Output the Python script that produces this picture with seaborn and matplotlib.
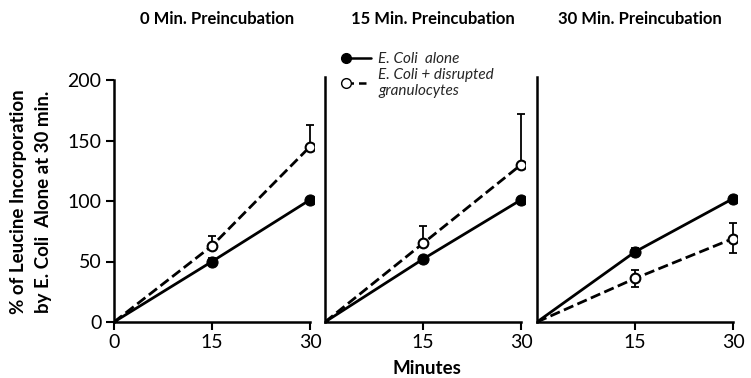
import matplotlib
matplotlib.use("Agg")
import matplotlib.pyplot as plt
import seaborn as sns
import pandas as pd
from matplotlib.lines import Line2D

sns.set_theme(style="ticks")
plt.rcParams['font.family'] = ['Lato', 'DejaVu Sans']

# ---- data ----
minutes = [0, 15, 30]
preincubation = ["0 Min. Preincubation", "15 Min. Preincubation", "30 Min. Preincubation"]
alone_p0 = [0, 50, 101]
alone_p15 = [0, 52, 101]
alone_p30 = [0, 58, 102]
disrupted_p0 = [0, 63, 145]
disrupted_p15 = [0, 65, 130]
disrupted_p30 = [0, 36, 69]
disrupted_err_up_p0 = [0, 8, 18]
disrupted_err_up_p15 = [0, 14, 42]
disrupted_err_up_p30 = [0, 7, 13]
disrupted_err_lo_p0 = [0, 0, 0]
disrupted_err_lo_p15 = [0, 0, 0]
disrupted_err_lo_p30 = [0, 7, 12]
alone_err_p0 = [0, 3, 0]
alone_err_p15 = [0, 2, 0]
alone_err_p30 = [0, 3, 0]
series_labels = ["E. Coli  alone", "E. Coli + disrupted\ngranulocytes"]
y_ticks = [0, 50, 100, 150, 200]

alone = [alone_p0, alone_p15, alone_p30]
disrupted = [disrupted_p0, disrupted_p15, disrupted_p30]
d_up = [disrupted_err_up_p0, disrupted_err_up_p15, disrupted_err_up_p30]
d_lo = [disrupted_err_lo_p0, disrupted_err_lo_p15, disrupted_err_lo_p30]
a_err = [alone_err_p0, alone_err_p15, alone_err_p30]

W, H = 751, 378
fig = plt.figure(figsize=(W / 100, H / 100), dpi=100)

lefts = [114, 325, 537]
width_px = 200
bottom_px = 322
top_px = 77
ymax = 200 * (bottom_px - top_px) / (322 - 80)
title_x = [217, 433, 640]

axes = []
for i in range(3):
    ax = fig.add_axes([lefts[i] / W, 1 - bottom_px / H, width_px / W, (bottom_px - top_px) / H])
    axes.append(ax)
    df = pd.DataFrame({"min": minutes * 2,
                       "val": alone[i] + disrupted[i],
                       "series": [series_labels[0]] * 3 + [series_labels[1]] * 3})
    ax.errorbar(minutes, disrupted[i], yerr=[d_lo[i], d_up[i]], fmt="none",
                ecolor="black", elinewidth=1.3, capsize=3, capthick=1.3, zorder=2)
    ax.errorbar(minutes, alone[i], yerr=a_err[i], fmt="none",
                ecolor="black", elinewidth=1.3, capsize=3, capthick=1.3, zorder=2)
    sns.lineplot(data=df[df.series == series_labels[1]], x="min", y="val", ax=ax,
                 color="black", linewidth=2, dashes=(4, 3), linestyle="--",
                 marker="o", markersize=7, markerfacecolor="white",
                 markeredgecolor="black", markeredgewidth=1.5, legend=False, zorder=3)
    sns.lineplot(data=df[df.series == series_labels[0]], x="min", y="val", ax=ax,
                 color="black", linewidth=2, marker="o", markersize=8,
                 markerfacecolor="black", markeredgecolor="black", legend=False, zorder=4)
    ax.set_xlim(0, 30.6)
    ax.set_ylim(0, ymax)
    sns.despine(ax=ax)
    for s in ["left", "bottom"]:
        ax.spines[s].set_linewidth(1.8)
        ax.spines[s].set_color("black")
    ax.spines["bottom"].set_bounds(0, 30)
    ax.set_xlabel("")
    ax.set_ylabel("")
    ax.tick_params(axis="both", colors="black", width=1.5, length=6, labelsize=14, pad=3)
    if i == 0:
        ax.set_xticks(minutes)
        ax.set_xticklabels([str(m) for m in minutes])
        ax.set_yticks(y_ticks)
        ax.set_yticklabels([str(v) for v in y_ticks])
        ax.spines["left"].set_bounds(0, 200)
    else:
        ax.set_xticks(minutes[1:])
        ax.set_xticklabels([str(m) for m in minutes[1:]])
        ax.set_yticks([])
    ax.patch.set_alpha(0)
    fig.text(title_x[i] / W, 1 - 19 / H, preincubation[i],
             ha="center", va="center", fontsize=12, fontweight="bold", color="black")

for ax in axes:
    for ln in ax.get_lines():
        if ln.get_marker() == "o":
            ln.set_markevery([1, 2])

fig.text(427 / W, 1 - 369 / H, "Minutes", ha="center", va="center",
         fontsize=13.5, fontweight="bold", color="black")
fig.text(31 / W, 1 - 202 / H, "% of Leucine Incorporation\nby E. Coli  Alone at 30 min.",
         ha="center", va="center", rotation=90, fontsize=13.5, fontweight="bold",
         color="black", linespacing=1.6)

handles = [
    Line2D([], [], color="black", linewidth=1.8, marker="o", markersize=7,
           markerfacecolor="black", markeredgecolor="black"),
    Line2D([], [], color="black", linewidth=1.8, linestyle=(0, (3, 2)), marker="o",
           markersize=7, markerfacecolor="white", markeredgecolor="black"),
]
leg = fig.legend(handles, series_labels, loc="upper left",
                 bbox_to_anchor=(340 / W, 1 - 46 / H), frameon=False,
                 prop={"style": "italic", "size": 11}, handlelength=1.6,
                 handletextpad=0.5, labelspacing=0.15, borderaxespad=0,
                 markerfirst=True)
for h in leg.legend_handles:
    h.set_markevery([0])
for t in leg.get_texts():
    t.set_linespacing(1.1)

fig.savefig("out.png", dpi=100)
